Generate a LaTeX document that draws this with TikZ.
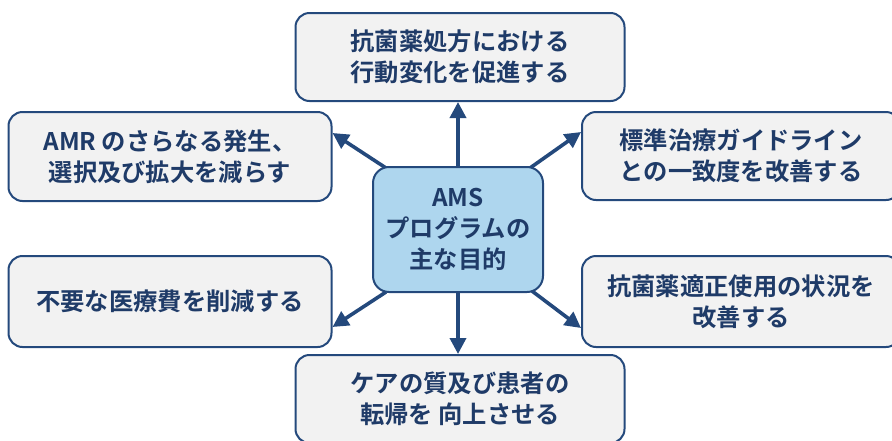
\documentclass[tikz,border=0pt]{standalone}
\usepackage{fontspec}
\newfontfamily\jp{Noto Sans CJK JP}[BoldFont={Noto Sans CJK JP Bold}]
\usetikzlibrary{arrows.meta}
\definecolor{bordc}{HTML}{24497C}
\definecolor{txtc}{HTML}{1F3B68}
\definecolor{boxfill}{HTML}{F2F2F2}
\definecolor{ctrfill}{HTML}{AED6EE}
\tikzset{
  goalbox/.style={draw=bordc, line width=2pt, fill=boxfill, rounded corners=14pt,
    align=center, inner sep=0pt, text=txtc,
    font=\jp\bfseries\fontsize{24.3}{31}\selectfont},
  ctrbox/.style={goalbox, fill=ctrfill, rounded corners=16pt},
  arr/.style={draw=bordc, line width=3.6pt, -{Triangle[length=16pt,width=16pt]}}
}
\begin{document}
\begin{tikzpicture}[x=1pt,y=-1pt]
\useasboundingbox (0,0) rectangle (892,440);
\coordinate (s1) at (386,168);
\coordinate (s2) at (530,168);
\coordinate (s3) at (386,292);
\coordinate (s4) at (532,291);
\node[goalbox, minimum width=329pt, minimum height=88pt] (top) at (460,57) {抗菌薬処方における\\行動変化を促進する};
\node[goalbox, minimum width=323pt, minimum height=89pt] (lt) at (170,156.5) {AMR のさらなる発生、\\選択及び拡大を減らす};
\node[goalbox, minimum width=318pt, minimum height=88pt] (rt) at (741,156) {標準治療ガイドライン\\との一致度を改善する};
\node[goalbox, minimum width=323pt, minimum height=91pt] (lb) at (170,301.5) {不要な医療費を削減する};
\node[goalbox, minimum width=318pt, minimum height=91pt] (rb) at (741,301.5) {抗菌薬適正使用の状況を\\改善する};
\node[goalbox, minimum width=329pt, minimum height=88pt] (bot) at (460,399) {ケアの質及び患者の\\転帰を 向上させる};
\coordinate (e1) at (lt.east |- 0,133);
\coordinate (e2) at (rt.west |- 0,132);
\coordinate (e3) at (lb.east |- 0,327);
\coordinate (e4) at (rb.west |- 0,328);
\draw[arr] (s1) -- (e1);
\draw[arr] (s2) -- (e2);
\draw[arr] (s3) -- (e3);
\draw[arr] (s4) -- (e4);
\node[ctrbox, minimum width=170pt, minimum height=125pt] (c) at (458,229.5) {AMS\\プログラムの\\主な目的};
\draw[arr] (c.north) -- (c.north |- top.south);
\draw[arr] (c.south) -- (c.south |- bot.north);
\end{tikzpicture}
\end{document}
